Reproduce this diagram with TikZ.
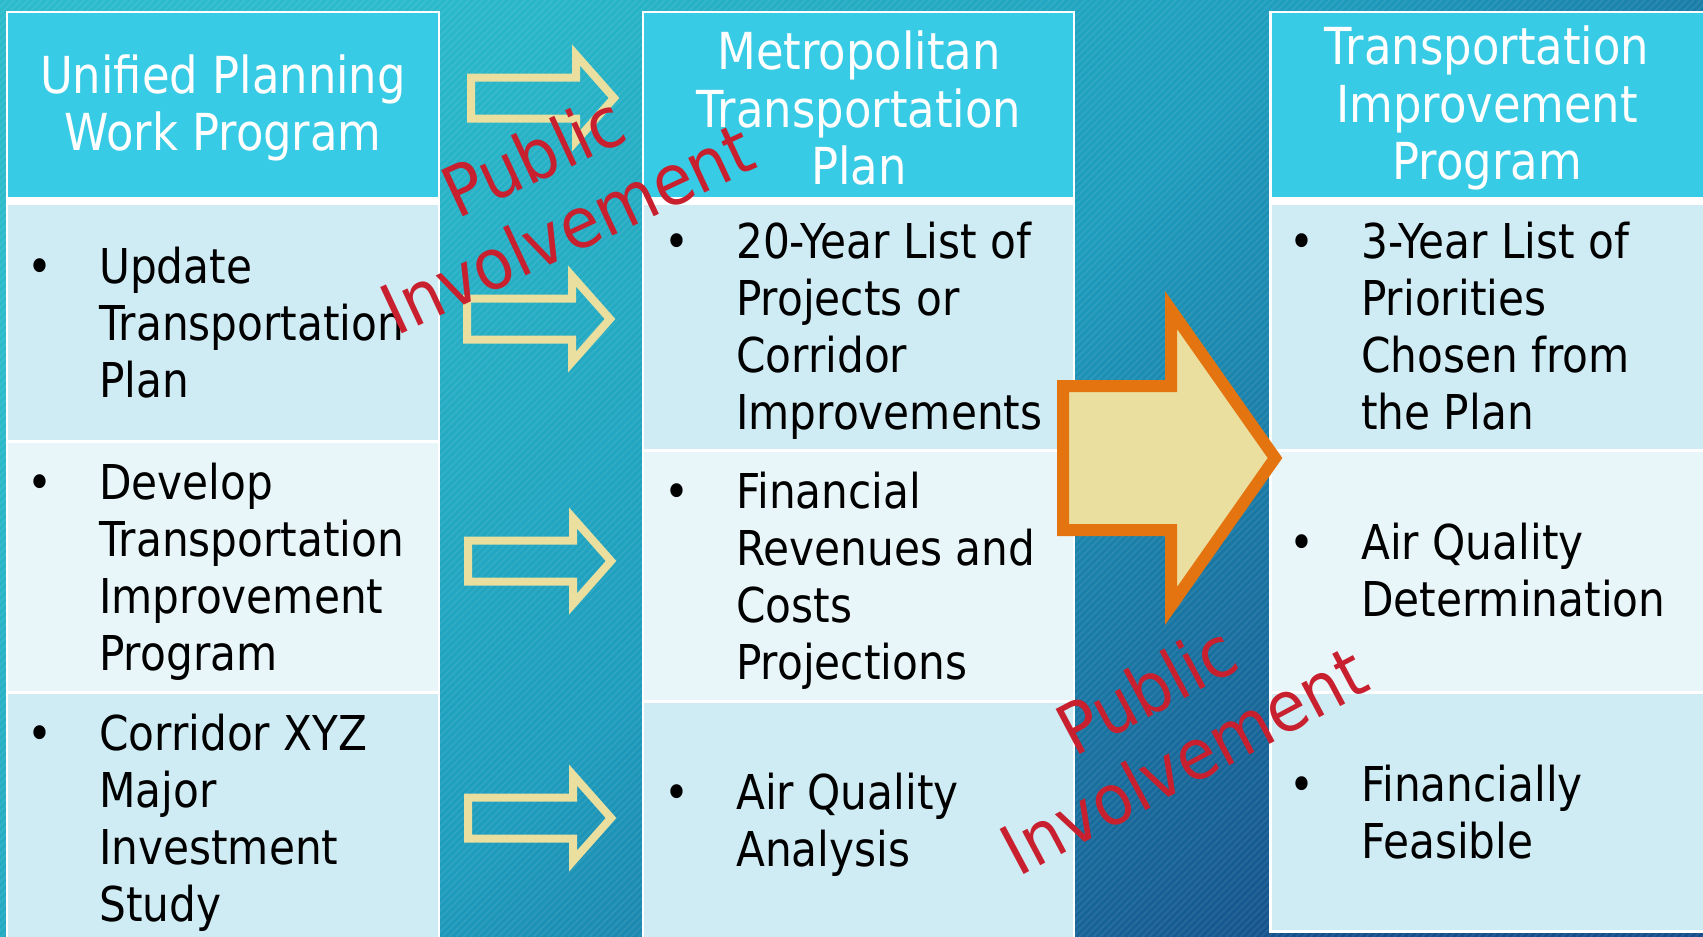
\documentclass[tikz,border=0pt]{standalone}
\usepackage{fontspec}
\setmainfont{DejaVu Sans}[FakeStretch=0.88]
\newfontfamily\redfont{DejaVu Sans}[FakeStretch=0.92]

\definecolor{bgA}{HTML}{2BBBCA}
\definecolor{bgM}{HTML}{1E9DBD}
\definecolor{bgB}{HTML}{15508A}
\definecolor{headcyan}{HTML}{38CBE5}
\definecolor{rowdark}{HTML}{CFECF5}
\definecolor{rowlight}{HTML}{E8F6FA}
\definecolor{sand}{HTML}{EBDFA0}
\definecolor{burnt}{HTML}{E3740F}
\definecolor{pired}{HTML}{C8202E}

\tikzset{
  head/.style={fill=headcyan},
  rowA/.style={fill=rowdark},
  rowB/.style={fill=rowlight},
  headtext/.style={text=white, align=center, font=\fontsize{51}{57.5}\selectfont},
  bodytext/.style={anchor=west, inner sep=0pt, font=\fontsize{48}{57}\selectfont},
  pubtext/.style={text=pired, align=center, font=\redfont\fontsize{70}{80}\selectfont},
  thinarrow/.style={draw=sand, line width=8pt, line join=miter},
  bigarrow/.style={draw=burnt, fill=sand, line width=12pt, line join=miter},
}
\newcommand{\bulitem}[1]{\begin{tabular}{@{}p{72pt}@{}l@{}}\textbullet&\begin{tabular}[t]{@{}l@{}}#1\end{tabular}\end{tabular}}

\begin{document}
\begin{tikzpicture}[x=1pt, y=-1pt]
\useasboundingbox (0,0) rectangle (1703,937);
% background
\shade[top color=bgA, bottom color=bgB, middle color=bgM, shading angle=45] (0,0) rectangle (1703,937);
\begin{scope}
    \clip (0,0) rectangle (1703,937);
    \foreach \c in {0,7,...,2660}
        \draw[white, opacity=.07, line width=2pt] (\c,0) -- ++(-937,937);
\end{scope}

% left table
\fill[white] (6,11) rectangle (440,945);
\fill[head] (8,13) rectangle (438,197);
\fill[rowA] (8,205) rectangle (438,440);
\fill[rowB] (8,443) rectangle (438,691);
\fill[rowA] (8,694) rectangle (438,945);

% middle table
\fill[white] (642,11) rectangle (1075,945);
\fill[head] (644,13) rectangle (1073,197);
\fill[rowA] (644,205) rectangle (1073,449);
\fill[rowB] (644,452) rectangle (1073,700);
\fill[rowA] (644,703) rectangle (1073,945);

% right table
\fill[white] (1269,11) rectangle (1710,933);
\fill[head] (1272,13) rectangle (1710,197);
\fill[rowA] (1272,205) rectangle (1710,449);
\fill[rowB] (1272,452) rectangle (1710,691);
\fill[rowA] (1272,694) rectangle (1710,930);

% arrows
\foreach \ax/\ay in {471/98, 467/319, 468/561, 468/818}
    \draw[thinarrow] (\ax,\ay-20.5) -- (\ax+105,\ay-20.5) -- (\ax+105,\ay-43) -- (\ax+143,\ay)
        -- (\ax+105,\ay+43) -- (\ax+105,\ay+20.5) -- (\ax,\ay+20.5) -- cycle;
\draw[bigarrow] (1063,386) -- (1171,386) -- (1171,310) -- (1275,458) -- (1171,606)
    -- (1171,530) -- (1063,530) -- cycle;

% headers
\node[headtext] (hUPWP) at (223,108) {Unified Planning\\Work Program};
\node[headtext] (hMTP) at (859,108) {Metropolitan\\Transportation\\Plan};
\node[headtext] (hTIP) at (1487,108) {Transportation\\Improvement\\Program};

% items
\node[bodytext] (upw1) at (27,329) {\bulitem{Update\\Transportation\\Plan}};
\node[bodytext] (upw2) at (27,574) {\bulitem{Develop\\Transportation\\Improvement\\Program}};
\node[bodytext] (upw3) at (27,825) {\bulitem{Corridor XYZ\\Major\\Investment\\Study}};
\node[bodytext] (mtp1) at (664,333) {\bulitem{20-Year List of\\Projects or\\Corridor\\Improvements}};
\node[bodytext] (mtp2) at (664,583) {\bulitem{Financial\\Revenues and\\Costs\\Projections}};
\node[bodytext] (mtp3) at (664,827) {\bulitem{Air Quality\\Analysis}};
\node[bodytext] (tip1) at (1289,333) {\bulitem{3-Year List of\\Priorities\\Chosen from\\the Plan}};
\node[bodytext] (tip2) at (1289,577) {\bulitem{Air Quality\\Determination}};
\node[bodytext] (tip3) at (1289,819) {\bulitem{Financially\\Feasible}};

% public involvement
\node[pubtext, rotate=25] (pubA) at (550,192) {Public\\Involvement};
\node[pubtext, rotate=28] (pubB) at (1165,725) {Public\\Involvement};
\end{tikzpicture}
\end{document}
